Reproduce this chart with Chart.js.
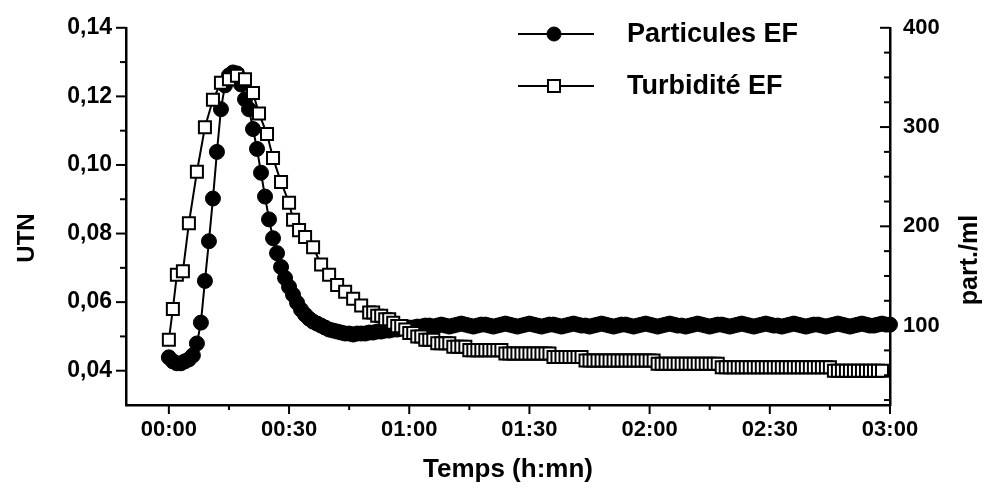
<!DOCTYPE html>
<html>
<head>
<meta charset="utf-8">
<title>Particules et turbidité EF</title>
<script src="https://cdn.jsdelivr.net/npm/chart.js@4.4.0/dist/chart.umd.min.js"></script>
<style>
  html, body { margin: 0; padding: 0; background: #fff; }
  canvas { display: block; }
</style>
</head>
<body>
<canvas id="graf" width="990" height="491"></canvas>
<script>
// temps en minutes depuis 00:00
const partTime = [0, 1, 2, 3, 4, 5, 6, 7, 8, 9, 10, 11, 12, 13, 14, 15, 16, 17, 18, 19, 20,
  21, 22, 23, 24, 25, 26, 27, 28, 29, 30, 31, 32, 33, 34, 35, 36, 37, 38, 39, 40,
  41, 42, 43, 44, 45, 46, 47, 48, 49, 50, 51, 52, 53, 54, 55, 56, 57, 58, 59, 60,
  61, 62, 63, 64, 65, 66, 67, 68, 69, 70, 71, 72, 73, 74, 75, 76, 77, 78, 79, 80,
  81, 82, 83, 84, 85, 86, 87, 88, 89, 90, 91, 92, 93, 94, 95, 96, 97, 98, 99, 100,
  101, 102, 103, 104, 105, 106, 107, 108, 109, 110, 111, 112, 113, 114, 115, 116, 117, 118, 119, 120,
  121, 122, 123, 124, 125, 126, 127, 128, 129, 130, 131, 132, 133, 134, 135, 136, 137, 138, 139, 140,
  141, 142, 143, 144, 145, 146, 147, 148, 149, 150, 151, 152, 153, 154, 155, 156, 157, 158, 159, 160,
  161, 162, 163, 164, 165, 166, 167, 168, 169, 170, 171, 172, 173, 174, 175, 176, 177, 178, 179, 180];
// part./ml
const partValues = [68, 64, 62, 62, 64, 66, 70, 82, 103, 145, 185, 228, 275, 318, 342, 352, 355, 354, 343, 328, 318,
  298, 278, 254, 230, 207, 188, 173, 159, 148, 139, 131, 123, 116, 111, 107, 104, 102, 100, 98, 96,
  95, 94, 93, 92, 92, 91, 92, 92, 92, 93, 93, 94, 94, 95, 95, 96, 96, 97, 97, 98,
  98, 99, 99, 100, 100, 99, 100, 101, 100, 99, 100, 101, 102, 101, 100, 99, 100, 101, 101, 100,
  99, 100, 101, 102, 101, 100, 99, 100, 101, 102, 101, 100, 99, 100, 101, 101, 100, 99, 100, 101,
  102, 101, 100, 100, 99, 100, 101, 102, 101, 100, 99, 100, 101, 101, 100, 99, 100, 101, 102, 101,
  100, 99, 100, 101, 102, 101, 100, 100, 99, 100, 101, 102, 101, 100, 99, 100, 101, 101, 100, 99,
  100, 101, 102, 101, 100, 99, 100, 101, 102, 101, 100, 100, 99, 100, 101, 102, 101, 100, 99, 100,
  101, 101, 100, 99, 100, 101, 102, 101, 100, 99, 100, 101, 102, 101, 100, 100, 101, 102, 101, 101];

const turbTime = [0, 1, 2, 3.5, 5, 7, 9, 11, 13, 15, 17, 19, 21, 22.5, 24.5, 26, 28, 30, 31, 32.5,
  34, 36, 38, 40, 42, 44, 46, 48,
  50, 51, 52, 53, 54, 55, 56, 57, 58, 59, 60, 61, 62, 63, 64, 65, 66, 67, 68, 69,
  70, 71, 72, 73, 74, 75, 76, 77, 78, 79, 80, 81, 82, 83, 84, 85, 86, 87, 88, 89,
  90, 91, 92, 93, 94, 95, 96, 97, 98, 99, 100, 101, 102, 103, 104, 105, 106, 107, 108, 109,
  110, 111, 112, 113, 114, 115, 116, 117, 118, 119, 120, 121, 122, 123, 124, 125, 126, 127, 128, 129,
  130, 131, 132, 133, 134, 135, 136, 137, 138, 139, 140, 141, 142, 143, 144, 145, 146, 147, 148, 149,
  150, 151, 152, 153, 154, 155, 156, 157, 158, 159, 160, 161, 162, 163, 164, 165, 166, 167, 168, 169,
  170, 171, 172, 173, 174, 175, 176, 177, 178, 179, 180];
// UTN
const turbValues = [0.049, 0.058, 0.068, 0.069, 0.083, 0.098, 0.111, 0.119, 0.124, 0.125, 0.126, 0.125, 0.121, 0.115, 0.109, 0.102, 0.095, 0.089, 0.084, 0.081,
  0.079, 0.076, 0.071, 0.068, 0.065, 0.063, 0.061, 0.059,
  0.057, 0.057, 0.056, 0.056, 0.055, 0.055, 0.054, 0.053, 0.053, 0.052, 0.051, 0.051, 0.050, 0.050, 0.049, 0.049, 0.049, 0.048, 0.048, 0.048,
  0.048, 0.047, 0.047, 0.047, 0.047, 0.046, 0.046, 0.046, 0.046, 0.046, 0.046, 0.046, 0.046, 0.046, 0.045, 0.045, 0.045, 0.045, 0.045, 0.045,
  0.045, 0.045, 0.045, 0.045, 0.045, 0.045, 0.044, 0.044, 0.044, 0.044, 0.044, 0.044, 0.044, 0.044, 0.043, 0.043, 0.043, 0.043, 0.043, 0.043,
  0.043, 0.043, 0.043, 0.043, 0.043, 0.043, 0.043, 0.043, 0.043, 0.043, 0.043, 0.043, 0.042, 0.042, 0.042, 0.042, 0.042, 0.042, 0.042, 0.042,
  0.042, 0.042, 0.042, 0.042, 0.042, 0.042, 0.042, 0.042, 0.041, 0.041, 0.041, 0.041, 0.041, 0.041, 0.041, 0.041, 0.041, 0.041, 0.041, 0.041,
  0.041, 0.041, 0.041, 0.041, 0.041, 0.041, 0.041, 0.041, 0.041, 0.041, 0.041, 0.041, 0.041, 0.041, 0.041, 0.041, 0.040, 0.040,
  0.040, 0.040, 0.040, 0.040, 0.040, 0.040, 0.040, 0.040, 0.040, 0.040, 0.040];

// graduations
const xTicks = [0, 15, 30, 45, 60, 75, 90, 105, 120, 135, 150, 165, 180];
const xLabels = ['00:00', '', '00:30', '', '01:00', '', '01:30', '', '02:00', '', '02:30', '', '03:00'];
const utnTicks = [0.04, 0.05, 0.06, 0.07, 0.08, 0.09, 0.10, 0.11, 0.12, 0.13, 0.14];
const utnLabels = ['0,04', '', '0,06', '', '0,08', '', '0,10', '', '0,12', '', '0,14'];
const partTicks = [25, 50, 75, 100, 125, 150, 175, 200, 225, 250, 275, 300, 325, 350, 375, 400];
const partLabels = ['', '', '', '100', '', '', '', '200', '', '', '', '300', '', '', '', '400'];

const police = "'Liberation Sans', Arial, sans-serif";
Chart.defaults.font.family = police;
Chart.defaults.font.weight = 'bold';
Chart.defaults.color = '#000';

// petits traits de graduation (majeurs plus longs)
const traits = {
  id: 'traits',
  afterDraw(chart) {
    const ctx = chart.ctx;
    const a = chart.chartArea;
    ctx.save();
    ctx.strokeStyle = '#000';
    ctx.lineWidth = 2;
    const trait = (x1, y1, x2, y2) => { ctx.beginPath(); ctx.moveTo(x1, y1); ctx.lineTo(x2, y2); ctx.stroke(); };
    xTicks.forEach((v, i) => {
      const px = chart.scales.x.getPixelForValue(v);
      trait(px, a.bottom, px, a.bottom + (xLabels[i] ? 9 : 5));
    });
    utnTicks.forEach((v, i) => {
      const py = chart.scales.y.getPixelForValue(v);
      trait(a.left, py, a.left - (utnLabels[i] ? 10 : 6), py);
    });
    partTicks.forEach((v, i) => {
      const py = chart.scales.y1.getPixelForValue(v);
      trait(a.right, py, a.right - (partLabels[i] ? 10 : 6), py);
    });
    ctx.restore();
  }
};

// titres verticaux et légende
const habillage = {
  id: 'habillage',
  afterDraw(chart) {
    const ctx = chart.ctx;
    ctx.save();
    ctx.fillStyle = '#000';
    ctx.textBaseline = 'middle';
    ctx.textAlign = 'center';

    ctx.font = 'bold 24px ' + police;
    ctx.save(); ctx.translate(27, 238); ctx.rotate(-Math.PI / 2); ctx.fillText('UTN', 0, 0); ctx.restore();
    ctx.font = 'bold 25px ' + police;
    ctx.save(); ctx.translate(970, 260); ctx.rotate(-Math.PI / 2); ctx.fillText('part./ml', 0, 0); ctx.restore();

    const items = [chart.data.datasets[1], chart.data.datasets[0]];
    items.forEach((ds, i) => {
      const y = 34 + i * 52;
      ctx.strokeStyle = '#000';
      ctx.lineWidth = 2;
      ctx.beginPath(); ctx.moveTo(518, y); ctx.lineTo(594, y); ctx.stroke();
      ctx.fillStyle = ds.pointBackgroundColor;
      ctx.lineWidth = ds.pointBorderWidth;
      Chart.helpers.drawPoint(ctx, { pointStyle: ds.pointStyle, radius: ds.pointStyle === 'rect' ? 8.5 : 7, rotation: 0, borderWidth: ds.pointBorderWidth }, 554, y);
      ctx.fillStyle = '#000';
      ctx.textAlign = 'left';
      ctx.font = 'bold 27px ' + police;
      ctx.fillText(ds.label, 627, y + 1);
    });
    ctx.restore();
  }
};

const ctx = document.getElementById('graf').getContext('2d');
const graf = new Chart(ctx, {
  type: 'line',
  data: {
    datasets: [
      {
        label: 'Turbidité EF',
        data: turbTime.map((t, i) => ({ x: t, y: turbValues[i] })),
        yAxisID: 'y',
        borderColor: '#000',
        borderWidth: 2,
        pointStyle: 'rect',
        pointRadius: 8.5,
        pointBackgroundColor: '#fff',
        pointBorderColor: '#000',
        pointBorderWidth: 2,
        tension: 0,
        clip: false,
        order: 1
      },
      {
        label: 'Particules EF',
        data: partTime.map((t, i) => ({ x: t, y: partValues[i] })),
        yAxisID: 'y1',
        borderColor: '#000',
        borderWidth: 2,
        pointStyle: 'circle',
        pointRadius: 7.5,
        pointBackgroundColor: '#000',
        pointBorderColor: '#000',
        pointBorderWidth: 1,
        tension: 0,
        clip: false,
        order: 2
      }
    ]
  },
  options: {
    responsive: false,
    animation: false,
    events: [],
    layout: { padding: { top: 20, left: 0, right: 0, bottom: 0 } },
    plugins: { legend: { display: false }, tooltip: { enabled: false } },
    scales: {
      x: {
        type: 'linear',
        position: 'bottom',
        min: -10.7,
        max: 180,
        afterBuildTicks: s => { s.ticks = xTicks.map(v => ({ value: v })); },
        afterFit: s => { s.height = 86; },
        ticks: { autoSkip: false, maxRotation: 0, padding: 12, font: { size: 22 }, callback: (v, i) => xLabels[i] },
        grid: { display: true, drawOnChartArea: false, drawTicks: false },
        border: { display: true, color: '#000', width: 2.5 },
        title: { display: true, text: 'Temps (h:mn)', font: { size: 26 }, padding: { top: 0, bottom: 6 } }
      },
      y: {
        type: 'linear',
        position: 'left',
        min: 0.03,
        max: 0.14,
        afterBuildTicks: s => { s.ticks = utnTicks.map(v => ({ value: v })); },
        afterFit: s => { s.width = 126; },
        ticks: { autoSkip: false, padding: 14, font: { size: 23 }, callback: (v, i) => utnLabels[i] },
        grid: { display: true, drawOnChartArea: false, drawTicks: false },
        border: { display: true, color: '#000', width: 2.5 }
      },
      y1: {
        type: 'linear',
        position: 'right',
        min: 20,
        max: 400,
        afterBuildTicks: s => { s.ticks = partTicks.map(v => ({ value: v })); },
        afterFit: s => { s.width = 100; },
        ticks: { autoSkip: false, padding: 13, font: { size: 22 }, callback: (v, i) => partLabels[i] },
        grid: { display: true, drawOnChartArea: false, drawTicks: false },
        border: { display: true, color: '#000', width: 2.5 }
      }
    }
  },
  plugins: [traits, habillage]
});
</script>
</body>
</html>
